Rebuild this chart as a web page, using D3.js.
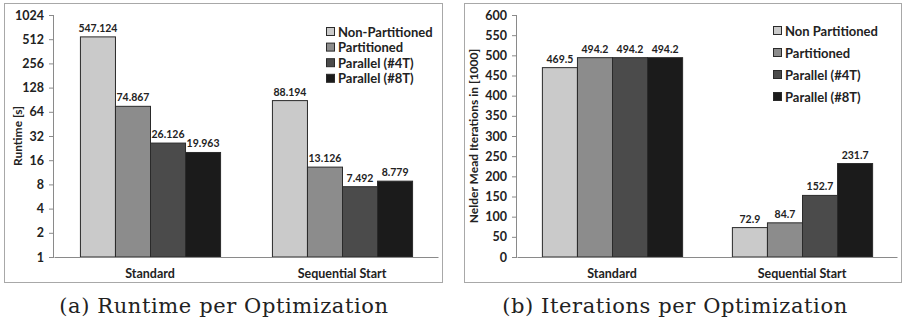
<!DOCTYPE html>
<html>
<head>
<meta charset="UTF-8">
<script src="https://cdn.jsdelivr.net/npm/d3@7"></script>
<style>
body { margin: 0; background: #fff; }
</style>
</head>
<body>
<div id="chart"></div>
<script>
// data
const categories = ["Standard", "Sequential Start"];
const runtimeSeries = ["Non-Partitioned", "Partitioned", "Parallel (#4T)", "Parallel (#8T)"];
const iterSeries = ["Non Partitioned", "Partitioned", "Parallel (#4T)", "Parallel (#8T)"];
const runtimeValues = [
  [547.124, 74.867, 26.126, 19.963],
  [88.194, 13.126, 7.492, 8.779]
];
const runtimeLabels = [
  ["547.124", "74.867", "26.126", "19.963"],
  ["88.194", "13.126", "7.492", "8.779"]
];
const iterValues = [
  [469.5, 494.2, 494.2, 494.2],
  [72.9, 84.7, 152.7, 231.7]
];
const runtimeTicks = [1, 2, 4, 8, 16, 32, 64, 128, 256, 512, 1024];
const iterTicks = [0, 50, 100, 150, 200, 250, 300, 350, 400, 450, 500, 550, 600];
const colors = ["#cacaca", "#8c8c8c", "#4b4b4b", "#1b1b1b"];

const sans = "Lato, 'Open Sans', sans-serif";

const svg = d3.select("#chart").append("svg")
  .attr("width", 904).attr("height", 324);

function drawPanel(p) {
  const g = svg.append("g").attr("font-family", sans);

  // frame
  g.append("rect")
    .attr("x", p.frame[0] + 0.5).attr("y", p.frame[1] + 0.5)
    .attr("width", p.frame[2]).attr("height", p.frame[3])
    .attr("fill", "#fff").attr("stroke", "#a8a8a8");

  const x0 = d3.scaleBand().domain(categories).range([p.left, p.right]);
  const x1 = d3.scaleBand().domain(d3.range(4)).range([0, x0.bandwidth()]).paddingOuter(p.outer).paddingInner(0);
  const y = p.y;

  // y axis
  const yAxis = g.append("g")
    .attr("transform", `translate(${p.left},0)`)
    .call(d3.axisLeft(y).tickValues(p.ticks).tickSize(5).tickPadding(5).tickFormat(d3.format("d")));
  yAxis.select(".domain").attr("stroke", "#8a8a8a").attr("d", `M-0.5,${p.top}V${p.bottom}`);
  yAxis.selectAll(".tick line").attr("stroke", "#8a8a8a");
  yAxis.selectAll(".tick text")
    .attr("font-family", sans).attr("font-weight", "bold")
    .attr("font-size", 12.5).attr("fill", "#222");

  // bars
  categories.forEach((c, ci) => {
    p.values[ci].forEach((v, si) => {
      const bx = x0(c) + x1(si);
      g.append("rect")
        .attr("x", bx + 0.5).attr("y", y(v))
        .attr("width", x1.bandwidth()).attr("height", y(p.base) - y(v))
        .attr("fill", colors[si]).attr("stroke", "#2a2a2a").attr("stroke-width", 1);
      g.append("text")
        .attr("x", bx + x1.bandwidth() / 2 + 0.5).attr("y", y(v) - 5)
        .attr("text-anchor", "middle")
        .attr("font-weight", "bold").attr("font-size", 10.5).attr("fill", "#222")
        .text(p.labels[ci][si]);
    });
  });

  // x axis
  const xAxis = g.append("g")
    .attr("transform", `translate(0,${p.bottom})`)
    .call(d3.axisBottom(x0).tickSize(0).tickPadding(12));
  xAxis.select(".domain").attr("stroke", "#8a8a8a");
  xAxis.selectAll(".tick text")
    .attr("font-family", sans).attr("font-weight", "bold")
    .attr("font-size", 12.5).attr("fill", "#222");

  // y label
  g.append("text")
    .attr("transform", `translate(${p.ylabelX},${(p.top + p.bottom) / 2}) rotate(-90)`)
    .attr("text-anchor", "middle")
    .attr("font-weight", "bold").attr("font-size", 12).attr("fill", "#222")
    .text(p.ylabel);

  // legend
  p.series.forEach((s, i) => {
    const ly = p.legend[1] + i * p.legendStep;
    g.append("rect")
      .attr("x", p.legend[0] + 0.5).attr("y", ly - 4.5)
      .attr("width", 8).attr("height", 8)
      .attr("fill", colors[i]).attr("stroke", "#2a2a2a");
    g.append("text")
      .attr("x", p.legend[0] + 12).attr("y", ly + 4.5)
      .attr("font-weight", "bold").attr("font-size", 13).attr("fill", "#222")
      .text(s);
  });

  // caption
  svg.append("text")
    .attr("x", p.captionX).attr("y", 313)
    .attr("text-anchor", "middle")
    .attr("font-family", "'DejaVu Serif', serif").attr("font-size", 21)
    .attr("letter-spacing", 0.6).attr("fill", "#222")
    .text(p.caption);
}

drawPanel({
  frame: [4, 3, 438, 279],
  left: 54, right: 438, top: 15, bottom: 257,
  outer: 0.74,
  y: d3.scaleLog().base(2).domain([1, 1024]).range([257, 15]),
  base: 1,
  ticks: runtimeTicks,
  values: runtimeValues,
  labels: runtimeLabels,
  series: runtimeSeries,
  ylabel: "Runtime [s]",
  ylabelX: 22,
  legend: [326, 32],
  legendStep: 15.6,
  caption: "(a) Runtime per Optimization",
  captionX: 224
});

drawPanel({
  frame: [464, 3, 437, 279],
  left: 517, right: 897, top: 15, bottom: 257,
  outer: 0.71,
  y: d3.scaleLinear().domain([0, 600]).range([257, 15]),
  base: 0,
  ticks: iterTicks,
  values: iterValues,
  labels: iterValues.map(r => r.map(v => v.toFixed(1))),
  series: iterSeries,
  ylabel: "Nelder Mead Iterations in [1000]",
  ylabelX: 478,
  legend: [773, 31],
  legendStep: 22,
  caption: "(b) Iterations per Optimization",
  captionX: 675
});
</script>
</body>
</html>
